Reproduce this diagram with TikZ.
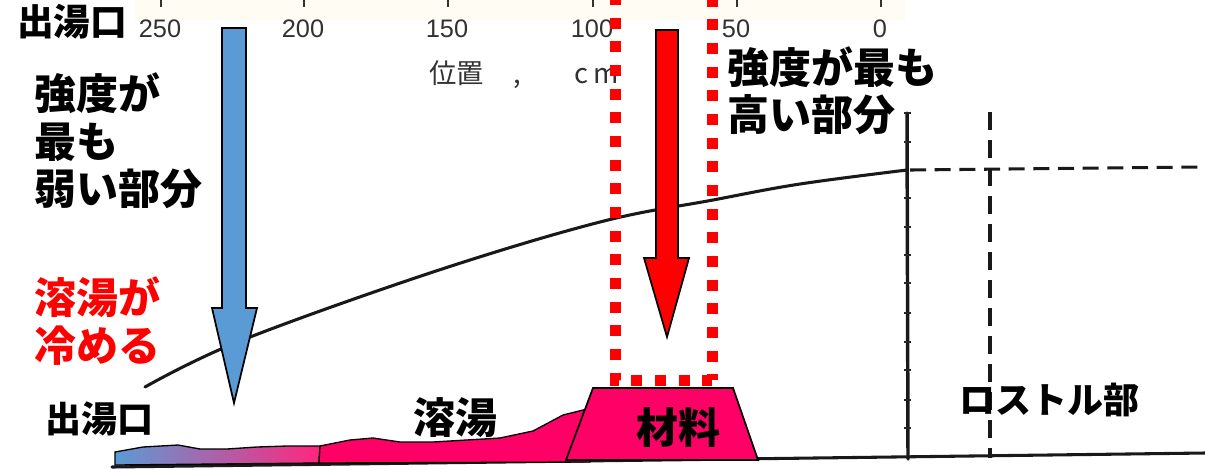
\documentclass[tikz,border=0pt]{standalone}
\usepackage{fontspec}
\setmainfont{Liberation Sans}
\newfontfamily\jp{Noto Sans CJK JP}
\usetikzlibrary{arrows.meta}

\definecolor{barblue}{RGB}{91,155,213}
\definecolor{meltpink}{RGB}{255,0,102}
\definecolor{scangray}{RGB}{50,50,50}
\definecolor{paperband}{RGB}{255,253,243}

\tikzset{
  biglabel/.style={font=\jp\bfseries\fontsize{31.5}{35.6}\selectfont, inner sep=0pt, align=left},
  midlabel/.style={biglabel, font=\jp\bfseries\fontsize{27}{30}\selectfont},
  scaletext/.style={font=\fontsize{19}{22}\selectfont, text=scangray, inner sep=0pt},
  scanline/.style={draw=black!90, line width=2.3pt, line cap=round},
  blockarrow/.style={draw=black, line width=1.3pt, line join=miter},
  dotbox/.style={draw=red, line width=8.25pt, dash pattern=on 8.25pt off 9.5pt},
}

\begin{document}
\begin{tikzpicture}[x=0.75pt, y=-0.75pt]
\useasboundingbox (0,0) rectangle (1205,469);
\clip (0,0) rectangle (1205,469);

% faint tint of the scanned scale strip
\fill[paperband] (135,0) rectangle (905,20);

% scale ticks and numbers
\foreach \xx/\lab [count=\i] in {161/250, 304/200, 448/150, 593/100, 737/50, 881/0} {
  \draw[scangray, line width=1.3pt] (\xx,0) -- (\xx,7);
  \node[scaletext] (num\i) at (\xx-1,29) {\lab};
}
\node[scaletext, font=\jp\fontsize{20.5}{22}\selectfont, anchor=west] (axlab) at (429,75)
  {位置\hspace{22pt},\hspace{40pt}c\hspace{4pt}m};

% base line of the furnace
\draw[scanline, line width=2.3pt] (112,467) -- (1205,453);

% vertical scale with its tick marks
\draw[scanline, line width=2.6pt] (907,113) -- (908,459);
\foreach \yy in {113,142,198,227,255,283,313,342,370,400,428} {
  \draw[black!85, line width=1.6pt] (904,\yy) -- (911,\yy);
}
% dashed guides
\draw[scanline, line width=2.3pt, line cap=butt, dash pattern=on 13.5pt off 7.5pt]
  (990,112) -- (990,458);
\draw[scanline, line width=2.3pt, line cap=butt, dash pattern=on 12pt off 6.5pt]
  (910,170) -- (1200,167);

% strength curve
\draw[scanline, line width=2.3pt] plot[smooth, tension=0.6] coordinates
  {(145,387) (240,341) (433,272) (600,222) (713,200) (800,184) (907,170)};

% molten metal near the tap hole (cooling, blue to pink)
\shade[left color=barblue, right color=meltpink!85!white, draw=black, line width=1pt]
  (115,452) -- (143,447) -- (178,445) -- (200,449) -- (227,449) -- (257,447)
  -- (287,446) -- (320,446) -- (319,463) -- (115,465) -- cycle;
% molten metal
\filldraw[fill=meltpink, draw=black, line width=1pt]
  (320,446) -- (350,440) -- (373,438) -- (400,442) -- (433,442) -- (500,438)
  -- (533,431) -- (563,415) -- (583,410) -- (595,408) -- (590,462) -- (319,463) -- cycle;

% charged material
\filldraw[fill=meltpink, draw=black, line width=1.3pt]
  (593,388) -- (733,388) -- (758,460) -- (566,460) -- cycle;
\node[biglabel] (mat) at (678,428) {材料};
\node[biglabel] (melt) at (455,418) {溶湯};
\node[midlabel, anchor=west] (tap) at (45,419) {出湯口};
\node[midlabel, anchor=west] (rost) at (959,400) {ロストル部};

% highest-strength zone
\draw[dotbox] (615,-6) -- (615,380) -- (712,380);
\draw[red, line width=8.25pt, dash pattern=on 8.25pt off 9.5pt, dash phase=4pt]
  (712,380) -- (712,-6);

% arrows
\filldraw[blockarrow, fill=barblue]
  (222,28) -- (246,28) -- (246,308) -- (257,308) -- (234,403) -- (212,308)
  -- (222,308) -- cycle;
\filldraw[blockarrow, fill=red]
  (656,30) -- (678,30) -- (678,258) -- (689,258) -- (667,337) -- (644,258)
  -- (656,258) -- cycle;

% labels
\node[midlabel, anchor=west, font=\jp\bfseries\fontsize{27.5}{30}\selectfont] (tapTop) at (17,22) {出湯口};
\node[biglabel, anchor=west] (weak) at (34,141) {強度が\\最も\\弱い部分};
\node[biglabel, anchor=west, text=red] (cool) at (34,321) {溶湯が\\冷める};
\node[biglabel, anchor=west] (strong) at (727,91) {強度が最も\\高い部分};
\end{tikzpicture}
\end{document}
